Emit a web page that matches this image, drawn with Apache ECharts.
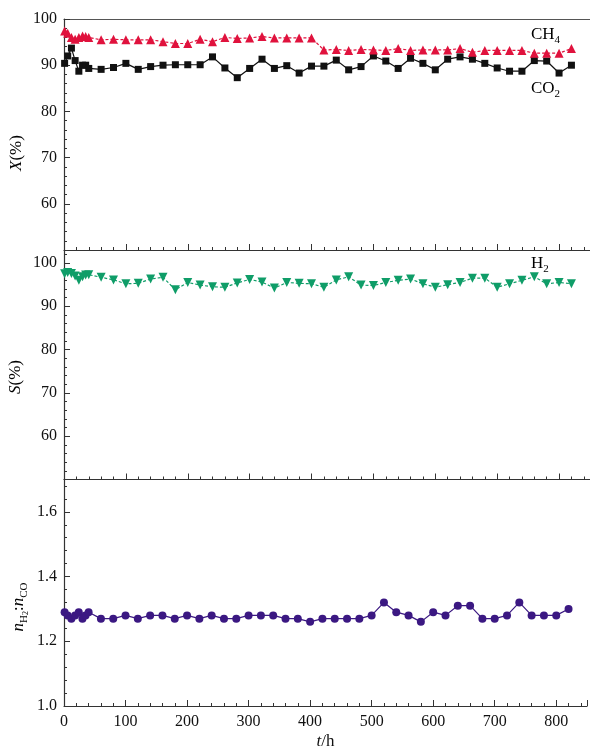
<!DOCTYPE html>
<html>
<head>
<meta charset="utf-8">
<title>Stability test</title>
<script src="https://cdn.jsdelivr.net/npm/echarts@6/dist/echarts.min.js"></script>
<style>
  html, body { margin: 0; padding: 0; background: #fff; }
  #chart { width: 590px; height: 751px; }
</style>
</head>
<body>
<div id="chart"></div>
<script>
// Time on stream (h)
const timeH = [1, 6, 12, 18, 24, 30, 35, 40,
  60, 80, 100, 120, 140, 160, 180, 200, 220, 240,
  260, 280, 300, 320, 340, 360, 380,
  400, 420, 440, 460, 480, 500, 520, 540, 560, 580,
  600, 620, 640, 660, 680, 700, 720, 740, 760, 780,
  800, 820];

// Conversion (%)
const convCH4 = [97.4, 96.9, 96.0, 95.6, 96.0, 96.3, 96.2, 96.0,
  95.5, 95.6, 95.5, 95.5, 95.5, 95.1, 94.7, 94.7, 95.6, 95.1,
  96.0, 95.8, 95.9, 96.2, 95.9, 95.9, 95.9,
  95.9, 93.3, 93.4, 93.2, 93.4, 93.3, 93.2, 93.6, 93.2, 93.3,
  93.3, 93.3, 93.6, 92.8, 93.2, 93.2, 93.2, 93.2, 92.6, 92.6,
  92.6, 93.6];

const convCO2 = [90.4, 92.0, 93.7, 91.0, 88.7, 90.0, 90.0, 89.3,
  89.1, 89.5, 90.4, 89.1, 89.7, 90.0, 90.1, 90.1, 90.1, 91.8,
  89.4, 87.3, 89.3, 91.3, 89.3, 89.9, 88.3,
  89.8, 89.8, 91.1, 89.0, 89.7, 92.0, 90.9, 89.3, 91.5, 90.4,
  89.0, 91.3, 91.8, 91.3, 90.4, 89.4, 88.7, 88.7, 91.0, 90.9,
  88.3, 90.0];

// Selectivity (%)
const selH2 = [97.5, 97.8, 97.6, 97.0, 96.0, 96.8, 97.2, 97.3,
  96.7, 96.1, 95.2, 95.3, 96.3, 96.7, 93.8, 95.5, 94.9, 94.5,
  94.4, 95.4, 96.2, 95.6, 94.2, 95.5, 95.3,
  95.2, 94.4, 96.1, 96.8, 94.9, 94.8, 95.5, 96.0, 96.3, 95.2,
  94.4, 95.0, 95.5, 96.5, 96.5, 94.4, 95.2, 96.0, 96.8, 95.2,
  95.5, 95.2];

// H2 : CO molar ratio
const ratioH2CO = [1.29, 1.28, 1.27, 1.28, 1.29, 1.27, 1.28, 1.29,
  1.27, 1.27, 1.28, 1.27, 1.28, 1.28, 1.27, 1.28, 1.27, 1.28,
  1.27, 1.27, 1.28, 1.28, 1.28, 1.27, 1.27,
  1.26, 1.27, 1.27, 1.27, 1.27, 1.28, 1.32, 1.29, 1.28, 1.26,
  1.29, 1.28, 1.31, 1.31, 1.27, 1.27, 1.28, 1.32, 1.28, 1.28,
  1.28, 1.30];

// Axis ticks
const xTicks = [0, 100, 200, 300, 400, 500, 600, 700, 800];
const pctTicks = [60, 70, 80, 90, 100];
const ratioTicks = [1.0, 1.2, 1.4, 1.6];

const FONT = '"Liberation Serif", "Times New Roman", serif';
const AXIS_COLOR = '#333';

const pairs = vals => timeH.map((t, i) => [t, vals[i]]);

const chart = echarts.init(document.getElementById('chart'), null, { renderer: 'canvas' });

const grids = [
  { left: 64, top: 19, width: 527, height: 231 },
  { left: 64, top: 250, width: 527, height: 229.5 },
  { left: 64, top: 479.5, width: 527, height: 230 }
].map(g => Object.assign(g, { show: false, containLabel: false }));

function xAxis(idx, showLabels) {
  return {
    type: 'value', gridIndex: idx, position: 'bottom', min: 0, max: 850, interval: 100,
    axisLine: { show: true, onZero: false, lineStyle: { color: AXIS_COLOR, width: 1.2 } },
    axisTick: { show: true, inside: true, length: 6, lineStyle: { color: AXIS_COLOR, width: 1 } },
    minorTick: { show: true, splitNumber: 5, length: 3, lineStyle: { color: AXIS_COLOR, width: 1 } },
    splitLine: { show: false },
    axisLabel: {
      show: showLabels, margin: 8, fontFamily: FONT, fontSize: 16, color: '#111',
      formatter: v => (xTicks.includes(v) ? String(v) : '')
    },
    name: showLabels ? '{i|t}{n|/h}' : '',
    nameLocation: 'middle', nameGap: 27,
    nameTextStyle: {
      rich: {
        i: { fontFamily: FONT, fontSize: 17, fontStyle: 'italic', color: '#111' },
        n: { fontFamily: FONT, fontSize: 17, color: '#111' }
      }
    }
  };
}

// frame line along the top of the upper panel
const topFrame = {
  type: 'value', gridIndex: 0, position: 'top', min: 0, max: 850,
  axisLine: { show: true, onZero: false, lineStyle: { color: '#555', width: 1.2 } },
  axisTick: { show: false }, minorTick: { show: false },
  axisLabel: { show: false }, splitLine: { show: false }
};

function yAxis(idx, min, max, interval, ticks, digits) {
  return {
    type: 'value', gridIndex: idx, position: 'left', min: min, max: max, interval: interval,
    axisLine: { show: true, onZero: false, lineStyle: { color: AXIS_COLOR, width: 1.2 } },
    axisTick: { show: true, inside: true, length: 6, lineStyle: { color: AXIS_COLOR, width: 1 } },
    minorTick: { show: true, splitNumber: 5, length: 3, lineStyle: { color: AXIS_COLOR, width: 1 } },
    splitLine: { show: false },
    axisLabel: {
      margin: 7, fontFamily: FONT, fontSize: 16, color: '#111',
      formatter: v => {
        const hit = ticks.find(t => Math.abs(t - v) < 1e-6);
        return hit === undefined ? '' : hit.toFixed(digits);
      }
    }
  };
}

function lineSeries(name, xi, vals, color, symbol, size, dashed, rotate) {
  return {
    name: name, type: 'line', xAxisIndex: xi, yAxisIndex: xi,
    data: pairs(vals),
    symbol: symbol, symbolSize: size, symbolRotate: rotate || 0,
    showSymbol: true, animation: false,
    lineStyle: { color: color, width: 1.2, type: dashed ? [3, 2] : 'solid' },
    itemStyle: { color: color, borderWidth: 0 },
    z: 3
  };
}

const subRich = {
  n: { fontFamily: FONT, fontSize: 17, color: '#111', lineHeight: 22 },
  i: { fontFamily: FONT, fontSize: 17, color: '#111', fontStyle: 'italic', lineHeight: 22 },
  s: { fontFamily: FONT, fontSize: 11, color: '#111', lineHeight: 11, verticalAlign: 'bottom' }
};

const option = {
  backgroundColor: '#fff',
  animation: false,
  grid: grids,
  xAxis: [xAxis(0, false), xAxis(1, false), xAxis(2, true), topFrame],
  yAxis: [
    yAxis(0, 50, 100, 10, pctTicks, 0),
    yAxis(1, 50, 103, 10, pctTicks, 0),
    yAxis(2, 1.0, 1.7, 0.2, ratioTicks, 1)
  ],
  series: [
    lineSeries('CO2', 0, convCO2, '#111111', 'rect', 7, false),
    lineSeries('CH4', 0, convCH4, '#e0123d', 'triangle', 9, true),
    lineSeries('H2', 1, selH2, '#0f9d68', 'triangle', 9, true, 180),
    lineSeries('H2/CO', 2, ratioH2CO, '#3b1882', 'circle', 8, false)
  ],
  graphic: [
    { type: 'text', x: 531, y: 35, style: { text: '{n|CH}{s|4}', rich: subRich, align: 'left', verticalAlign: 'middle' } },
    { type: 'text', x: 531, y: 89, style: { text: '{n|CO}{s|2}', rich: subRich, align: 'left', verticalAlign: 'middle' } },
    { type: 'text', x: 531, y: 264, style: { text: '{n|H}{s|2}', rich: subRich, align: 'left', verticalAlign: 'middle' } },
    { type: 'text', x: 17, y: 153, rotation: Math.PI / 2,
      style: { text: '{i|X}{n|(%)}', rich: subRich, align: 'center', verticalAlign: 'middle' } },
    { type: 'text', x: 16, y: 377, rotation: Math.PI / 2,
      style: { text: '{i|S}{n|(%)}', rich: subRich, align: 'center', verticalAlign: 'middle' } },
    { type: 'text', x: 19, y: 607, rotation: Math.PI / 2,
      style: { text: '{i|n}{s|H}{ss|2}{n|:}{i|n}{s|CO}', align: 'center', verticalAlign: 'middle',
        rich: Object.assign({}, subRich, {
          ss: { fontFamily: FONT, fontSize: 8, color: '#111', lineHeight: 6, verticalAlign: 'bottom' }
        }) } }
  ]
};

chart.setOption(option);
</script>
</body>
</html>
